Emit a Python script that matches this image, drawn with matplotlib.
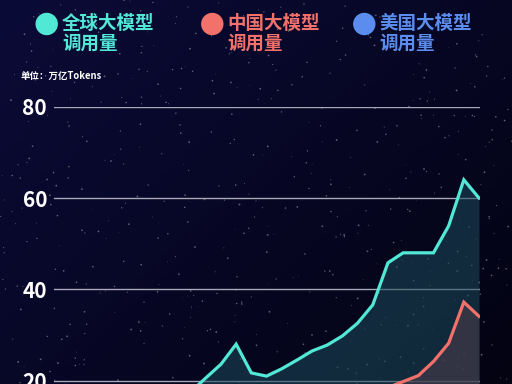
import numpy as np
import matplotlib
matplotlib.use("Agg")
import matplotlib.pyplot as plt
from matplotlib.patches import Ellipse

plt.rcParams['font.family'] = ['Noto Sans CJK SC', 'DejaVu Sans']

# ---- data (万亿 Tokens) ----
periods = list(range(1, 30))
global_calls = [5.0, 5.8, 6.6, 7.5, 8.5, 9.6, 10.8, 12.2, 13.8, 15.5, 17.5,
                20.6, 23.6, 28.0, 21.7, 21.0, 22.6, 24.5, 26.5, 27.8, 29.8,
                32.6, 36.6, 45.8, 48.0, 48.0, 48.0, 53.9, 64.0, 60.0]
global_calls = global_calls[-29:]
china_calls = [1.5, 1.8, 2.1, 2.5, 2.9, 3.3, 3.8, 4.3, 4.9, 5.5, 6.2,
               7.0, 7.8, 8.6, 9.4, 10.3, 11.3, 12.4, 13.6, 15.0, 16.4,
               17.6, 18.5, 19.8, 21.1, 24.2, 28.2, 37.2, 34.1]
us_calls = [2.5, 2.9, 3.3, 3.8, 4.3, 4.8, 5.4, 6.0, 6.6, 7.2, 7.8,
            9.0, 10.2, 11.8, 9.6, 9.4, 10.0, 10.6, 11.2, 11.6, 12.0,
            12.6, 13.4, 15.0, 15.4, 15.2, 14.8, 15.8, 17.5]
yticks = [20, 40, 60, 80]
legend_names = ['全球大模型', '中国大模型', '美国大模型']
legend_sub = '调用量'
unit_label = '单位：万亿Tokens'

c_global = '#52E8D6'
c_china = '#F2716A'
c_us = '#5B8DEE'

W, H = 512, 384
fig = plt.figure(figsize=(W / 100, H / 100), dpi=100)

# ---- background gradient with faint stars (decoration) ----
bg = fig.add_axes([0, 0, 1, 1])
bg.set_axis_off()
gx = np.linspace(0, 1, 256)
gy = np.linspace(0, 1, 192)
GX, GY = np.meshgrid(gx, gy)
t = np.clip(0.55 * GX + 0.45 * GY, 0, 1)
top = np.array([0x0b, 0x0b, 0x38]) / 255
bot = np.array([0x03, 0x03, 0x12]) / 255
img = top[None, None, :] * (1 - t[..., None]) + bot[None, None, :] * t[..., None]
bg.imshow(img, extent=[0, 1, 0, 1], aspect='auto', origin='upper')
rs = np.random.RandomState(7)
n = 500
sx, sy = rs.rand(n), rs.rand(n)
bg.scatter(sx, sy, s=rs.rand(n) * 1.6 + 0.2, c='white', alpha=0.35,
           linewidths=0)
bg.set_xlim(0, 1)
bg.set_ylim(0, 1)

# ---- main axes (bottom part cropped by figure edge) ----
y0_pix, y80_pix = 472.0, 106.7
ax_bottom = 1 - y0_pix / H
ax_height = (y0_pix - y80_pix) / H
ax = fig.add_axes([54 / W, ax_bottom, 426 / W, ax_height])
ax.patch.set_alpha(0)
for s in ax.spines.values():
    s.set_visible(False)
x = np.arange(len(periods))
ax.set_xlim(0, (len(periods) - 1) * 426 / 425)
ax.set_ylim(0, 80)
ax.set_yticks(yticks)
ax.set_yticklabels([str(v) for v in yticks], color='white', fontsize=15,
                   fontweight='bold')
ax.tick_params(axis='y', length=0, pad=5)
ax.set_xticks([])
ax.grid(axis='y', color='#a7a7b8', linewidth=1.0)
ax.set_axisbelow(True)

ax.fill_between(x, 0, global_calls, color='#1c4a5a', alpha=0.55, linewidth=0)
ax.fill_between(x, 0, china_calls, color='#4a3d4a', alpha=0.6, linewidth=0)
ax.plot(x, us_calls, color=c_us, linewidth=2.3, solid_joinstyle='miter')
ax.plot(x, china_calls, color=c_china, linewidth=2.3, solid_joinstyle='miter')
ax.plot(x, global_calls, color=c_global, linewidth=2.3, solid_joinstyle='miter')

# ---- legend ----
leg_cols = [c_global, c_china, c_us]
circle_x = [46.7, 212.3, 364.3]
r = 10.5
for name, col, cx in zip(legend_names, leg_cols, circle_x):
    fig.add_artist(Ellipse((cx / W, 1 - 24 / H), 2 * r / W, 2 * r / H,
                           transform=fig.transFigure, color=col))
    fig.text((cx + 15.5) / W, 1 - 23.3 / H, name, color=col, fontsize=13.3,
             fontweight='bold', va='center', ha='left')
    fig.text((cx + 15.5) / W, 1 - 43.5 / H, legend_sub, color=col,
             fontsize=13.3, fontweight='bold', va='center', ha='left')

fig.text(21 / W, 1 - 76 / H, unit_label, color='white', fontsize=6.8,
         fontweight='bold', va='center', ha='left')

fig.savefig('out.png', dpi=100)
